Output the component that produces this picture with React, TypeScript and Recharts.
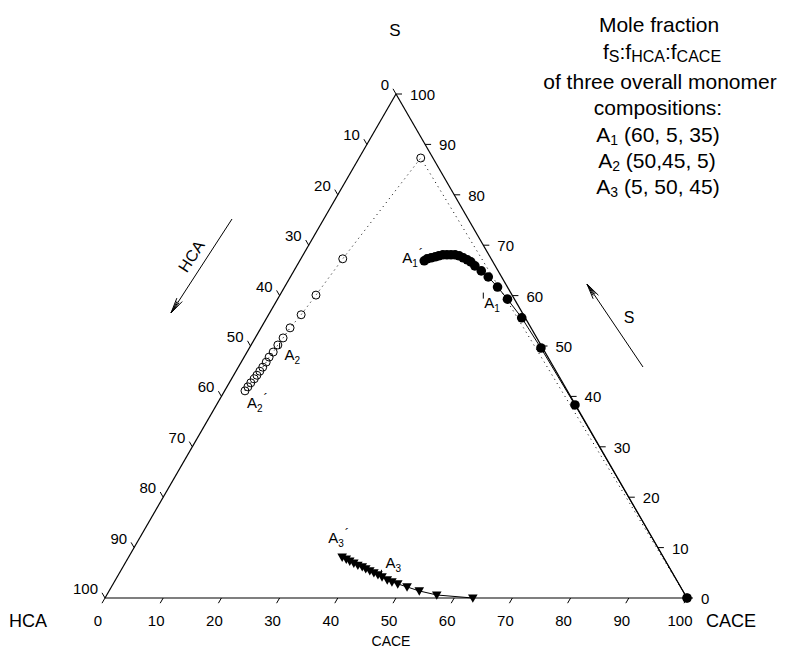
import React from 'react';
import { ScatterChart, Scatter, XAxis, YAxis, ReferenceLine, Customized } from 'recharts';

// Ternary compositions (mole %): S, HCA, CACE
// A1 trajectory (filled circles), from A1' outwards
const a1S = [66.9, 67.3, 67.5, 67.7, 67.9, 68.1, 68.1, 68.1, 68.1, 67.9, 67.5, 67.1, 66.7, 65.9, 64.9, 63.7, 61.7, 59.3, 55.6, 49.6, 38.3, 0];
const a1HCA = [11.7, 11.0, 10.2, 9.4, 8.7, 7.9, 7.2, 6.5, 5.8, 5.2, 4.7, 4.2, 3.8, 3.5, 2.9, 2.3, 1.7, 1.2, 0.6, 0.3, 0.1, 0];
const a1CACE = [21.4, 21.7, 22.3, 22.9, 23.4, 24.0, 24.7, 25.4, 26.1, 26.9, 27.8, 28.7, 29.5, 30.6, 32.2, 34.0, 36.6, 39.5, 43.8, 50.1, 61.6, 100];

// A2 trajectory (open circles)
const a2S = [41.1, 41.9, 42.7, 43.5, 44.2, 45.0, 45.8, 46.8, 47.8, 48.8, 50.2, 51.6, 53.6, 56.2, 60.1, 67.3, 87.3, 0];
const a2HCA = [55.4, 54.5, 53.6, 52.6, 51.8, 50.9, 50.0, 48.9, 47.9, 46.7, 45.2, 43.6, 41.4, 38.2, 33.7, 25.5, 2.1, 0];
const a2CACE = [3.5, 3.6, 3.7, 3.9, 4.0, 4.1, 4.2, 4.3, 4.3, 4.5, 4.6, 4.8, 5.0, 5.6, 6.2, 7.2, 10.6, 100];

// A3 trajectory (filled down triangles)
const a3S = [8.1, 7.7, 7.3, 6.9, 6.5, 6.2, 5.8, 5.4, 5.0, 4.6, 4.2, 3.6, 3.2, 2.8, 2.2, 1.4, 0.6, 0];
const a3HCA = [55.2, 54.7, 54.3, 53.8, 53.3, 52.7, 52.3, 51.8, 51.3, 50.8, 50.3, 49.7, 49.1, 48.3, 47.0, 45.3, 42.7, 36.8];
const a3CACE = [36.7, 37.6, 38.4, 39.3, 40.2, 41.1, 41.9, 42.8, 43.7, 44.6, 45.5, 46.7, 47.7, 48.9, 50.8, 53.3, 56.7, 63.2];

// overall monomer compositions (S, HCA, CACE)
const feedNames = ['1', '2', '3'];
const feedS = [60, 50, 5];
const feedHCA = [5, 45, 50];
const feedCACE = [35, 5, 45];

const tickValues = [0, 10, 20, 30, 40, 50, 60, 70, 80, 90, 100];

const FONT = '"Liberation Sans", Arial, Helvetica, sans-serif';
const H = Math.sqrt(3) / 2;

// ternary -> cartesian (base = CACE axis, apex = S)
const toXY = (s: number, hca: number, cace: number) => ({ x: cace + s / 2, y: s * H, s, hca, cace });

const series = (s: number[], h: number[], c: number[]) => s.map((v, i) => toXY(v, h[i], c[i]));

const a1Data = series(a1S, a1HCA, a1CACE);
const a2Data = series(a2S, a2HCA, a2CACE);
const a3Data = series(a3S, a3HCA, a3CACE);
const feedData = feedNames.map((n, i) => ({ ...toXY(feedS[i], feedHCA[i], feedCACE[i]), name: n }));

const bottomTicks = tickValues.map((v) => ({ ...toXY(0, 100 - v, v), label: String(v) }));
const leftTicks = tickValues.map((v) => ({ ...toXY(100 - v, v, 0), label: String(v) }));
const rightTicks = tickValues.map((v) => ({ ...toXY(v, 0, 100 - v), label: String(v) }));

const tickMark = (dx: number, dy: number) => (p: any) => (
  <line x1={p.cx} y1={p.cy} x2={p.cx + dx} y2={p.cy + dy} stroke="#000" strokeWidth={1} />
);

const tickText = (dx: number, dy: number, anchor: 'start' | 'middle' | 'end') => (p: any) => (
  <text x={p.cx + dx} y={p.cy + dy} textAnchor={anchor} fontSize={15} fontFamily={FONT} fill="#000">
    {p.payload.label}
  </text>
);

const FilledCircle = (p: any) => <circle cx={p.cx} cy={p.cy} r={4.8} fill="#000" />;
const OpenCircle = (p: any) => <circle cx={p.cx} cy={p.cy} r={4} fill="none" stroke="#000" strokeWidth={1} />;
const DownTriangle = (p: any) => (
  <polygon points={`${p.cx - 4.8},${p.cy - 3.6} ${p.cx + 4.8},${p.cy - 3.6} ${p.cx},${p.cy + 4.8}`} fill="#000" />
);

// point label "A<sub>n</sub>" with optional prime
const ALabel = ({ x, y, n, prime }: { x: number; y: number; n: string; prime?: boolean }) => (
  <text x={x} y={y} fontSize={15} fontFamily={FONT} fill="#000">
    A
    <tspan fontSize={10} dy={4}>{n}</tspan>
    {prime ? <tspan fontSize={13} dy={-9} dx={1}>´</tspan> : null}
  </text>
);

const labelOffsets: Record<string, [number, number]> = { '1': [1, 12], '2': [5, 14], '3': [4, -5] };
const FeedMark = (p: any) => {
  const [dx, dy] = labelOffsets[p.payload.name];
  return (
    <g>
      <line x1={p.cx} y1={p.cy - 3} x2={p.cx} y2={p.cy + 3} stroke="#000" strokeWidth={1} />
      <ALabel x={p.cx + dx} y={p.cy + dy} n={p.payload.name} />
    </g>
  );
};

const startOffsets: [number, number][] = [[-22, 2], [2, 17], [-14, -14]];
const startLabel = (k: number) => (p: any) =>
  p.index === 0 ? <ALabel x={p.cx + startOffsets[k][0]} y={p.cy + startOffsets[k][1]} n={String(k + 1)} prime /> : <g />;

const Arrow = ({ x1, y1, x2, y2 }: { x1: number; y1: number; x2: number; y2: number }) => {
  const len = Math.hypot(x2 - x1, y2 - y1);
  const ux = (x2 - x1) / len;
  const uy = (y2 - y1) / len;
  const head = (ang: number, l: number) => {
    const c = Math.cos(ang);
    const s = Math.sin(ang);
    const bx = -(ux * c - uy * s);
    const by = -(ux * s + uy * c);
    return <line x1={x2} y1={y2} x2={x2 + bx * l} y2={y2 + by * l} stroke="#000" strokeWidth={1} />;
  };
  return (
    <g>
      <line x1={x1} y1={y1} x2={x2} y2={y2} stroke="#000" strokeWidth={1} />
      {head(0.2, 16)}
      {head(-0.2, 16)}
      {head(0.1, 13)}
      {head(-0.1, 13)}
    </g>
  );
};

const Annotations = () => (
  <g fontFamily={FONT} fill="#000">
    <text x={395} y={36} fontSize={17} textAnchor="middle">S</text>
    <text x={28} y={627} fontSize={18} textAnchor="middle">HCA</text>
    <text x={731} y={627} fontSize={18} textAnchor="middle">CACE</text>
    <text x={391} y={646} fontSize={14} textAnchor="middle">CACE</text>

    <Arrow x1={232} y1={219} x2={171} y2={313} />
    <text x={191} y={262} fontSize={16} textAnchor="middle" transform="rotate(-57 191 256)">HCA</text>
    <Arrow x1={643} y1={367} x2={587} y2={284} />
    <text x={629} y={323} fontSize={16} textAnchor="middle">S</text>

    <g fontSize={21} textAnchor="middle">
      <text x={659} y={32}>Mole fraction</text>
      <text x={662} y={59}>
        f<tspan fontSize={16} dy={3}>S</tspan>
        <tspan dy={-3}>:f</tspan>
        <tspan fontSize={16} dy={3}>HCA</tspan>
        <tspan dy={-3}>:f</tspan>
        <tspan fontSize={16} dy={3}>CACE</tspan>
      </text>
      <text x={660} y={89}>of three overall monomer</text>
      <text x={658} y={115}>compositions:</text>
      <text x={658} y={142}>
        A<tspan fontSize={14} dy={3}>1</tspan>
        <tspan dy={-3}> (60, 5, 35)</tspan>
      </text>
      <text x={657} y={168}>
        A<tspan fontSize={14} dy={3}>2</tspan>
        <tspan dy={-3}> (50,45, 5)</tspan>
      </text>
      <text x={658} y={194}>
        A<tspan fontSize={14} dy={3}>3</tspan>
        <tspan dy={-3}> (5, 50, 45)</tspan>
      </text>
    </g>
  </g>
);

export default function App() {
  const top = toXY(100, 0, 0);
  const left = toXY(0, 100, 0);
  const right = toXY(0, 0, 100);
  const edge = { stroke: '#000', strokeWidth: 1.2, ifOverflow: 'visible' as const };
  return (
    <div style={{ position: 'absolute', left: 0, top: 0, background: '#fff' }}>
      <ScatterChart width={790} height={662} margin={{ top: 94, right: 103, bottom: 64, left: 105 }}>
        <XAxis type="number" dataKey="x" domain={[0, 100]} hide />
        <YAxis type="number" dataKey="y" domain={[0, 100 * H]} hide />

        <ReferenceLine segment={[{ x: left.x, y: left.y }, { x: right.x, y: right.y }]} {...edge} />
        <ReferenceLine segment={[{ x: left.x, y: left.y }, { x: top.x, y: top.y }]} {...edge} />
        <ReferenceLine segment={[{ x: right.x, y: right.y }, { x: top.x, y: top.y }]} {...edge} />

        <Scatter data={bottomTicks} shape={tickMark(-3, 5.2)} isAnimationActive={false} />
        <Scatter data={leftTicks} shape={tickMark(-3, -5.2)} isAnimationActive={false} />
        <Scatter data={rightTicks} shape={tickMark(6, 0)} isAnimationActive={false} />
        <Scatter data={bottomTicks} shape={tickText(-7, 28, 'middle')} isAnimationActive={false} />
        <Scatter data={leftTicks} shape={tickText(-7, -4, 'end')} isAnimationActive={false} />
        <Scatter data={rightTicks} shape={tickText(14, 6, 'start')} isAnimationActive={false} />

        <Scatter name="A2" data={a2Data} shape={OpenCircle} line={{ stroke: '#000', strokeWidth: 1, strokeDasharray: '1 4' }} isAnimationActive={false} />
        <Scatter name="A1" data={a1Data} shape={FilledCircle} line={{ stroke: '#000', strokeWidth: 1 }} isAnimationActive={false} />
        <Scatter name="A3" data={a3Data} shape={DownTriangle} line={{ stroke: '#000', strokeWidth: 1 }} isAnimationActive={false} />

        <Scatter data={a1Data} shape={startLabel(0)} isAnimationActive={false} />
        <Scatter data={a2Data} shape={startLabel(1)} isAnimationActive={false} />
        <Scatter data={a3Data} shape={startLabel(2)} isAnimationActive={false} />
        <Scatter data={feedData} shape={FeedMark} isAnimationActive={false} />

        <Customized component={Annotations} />
      </ScatterChart>
    </div>
  );
}
